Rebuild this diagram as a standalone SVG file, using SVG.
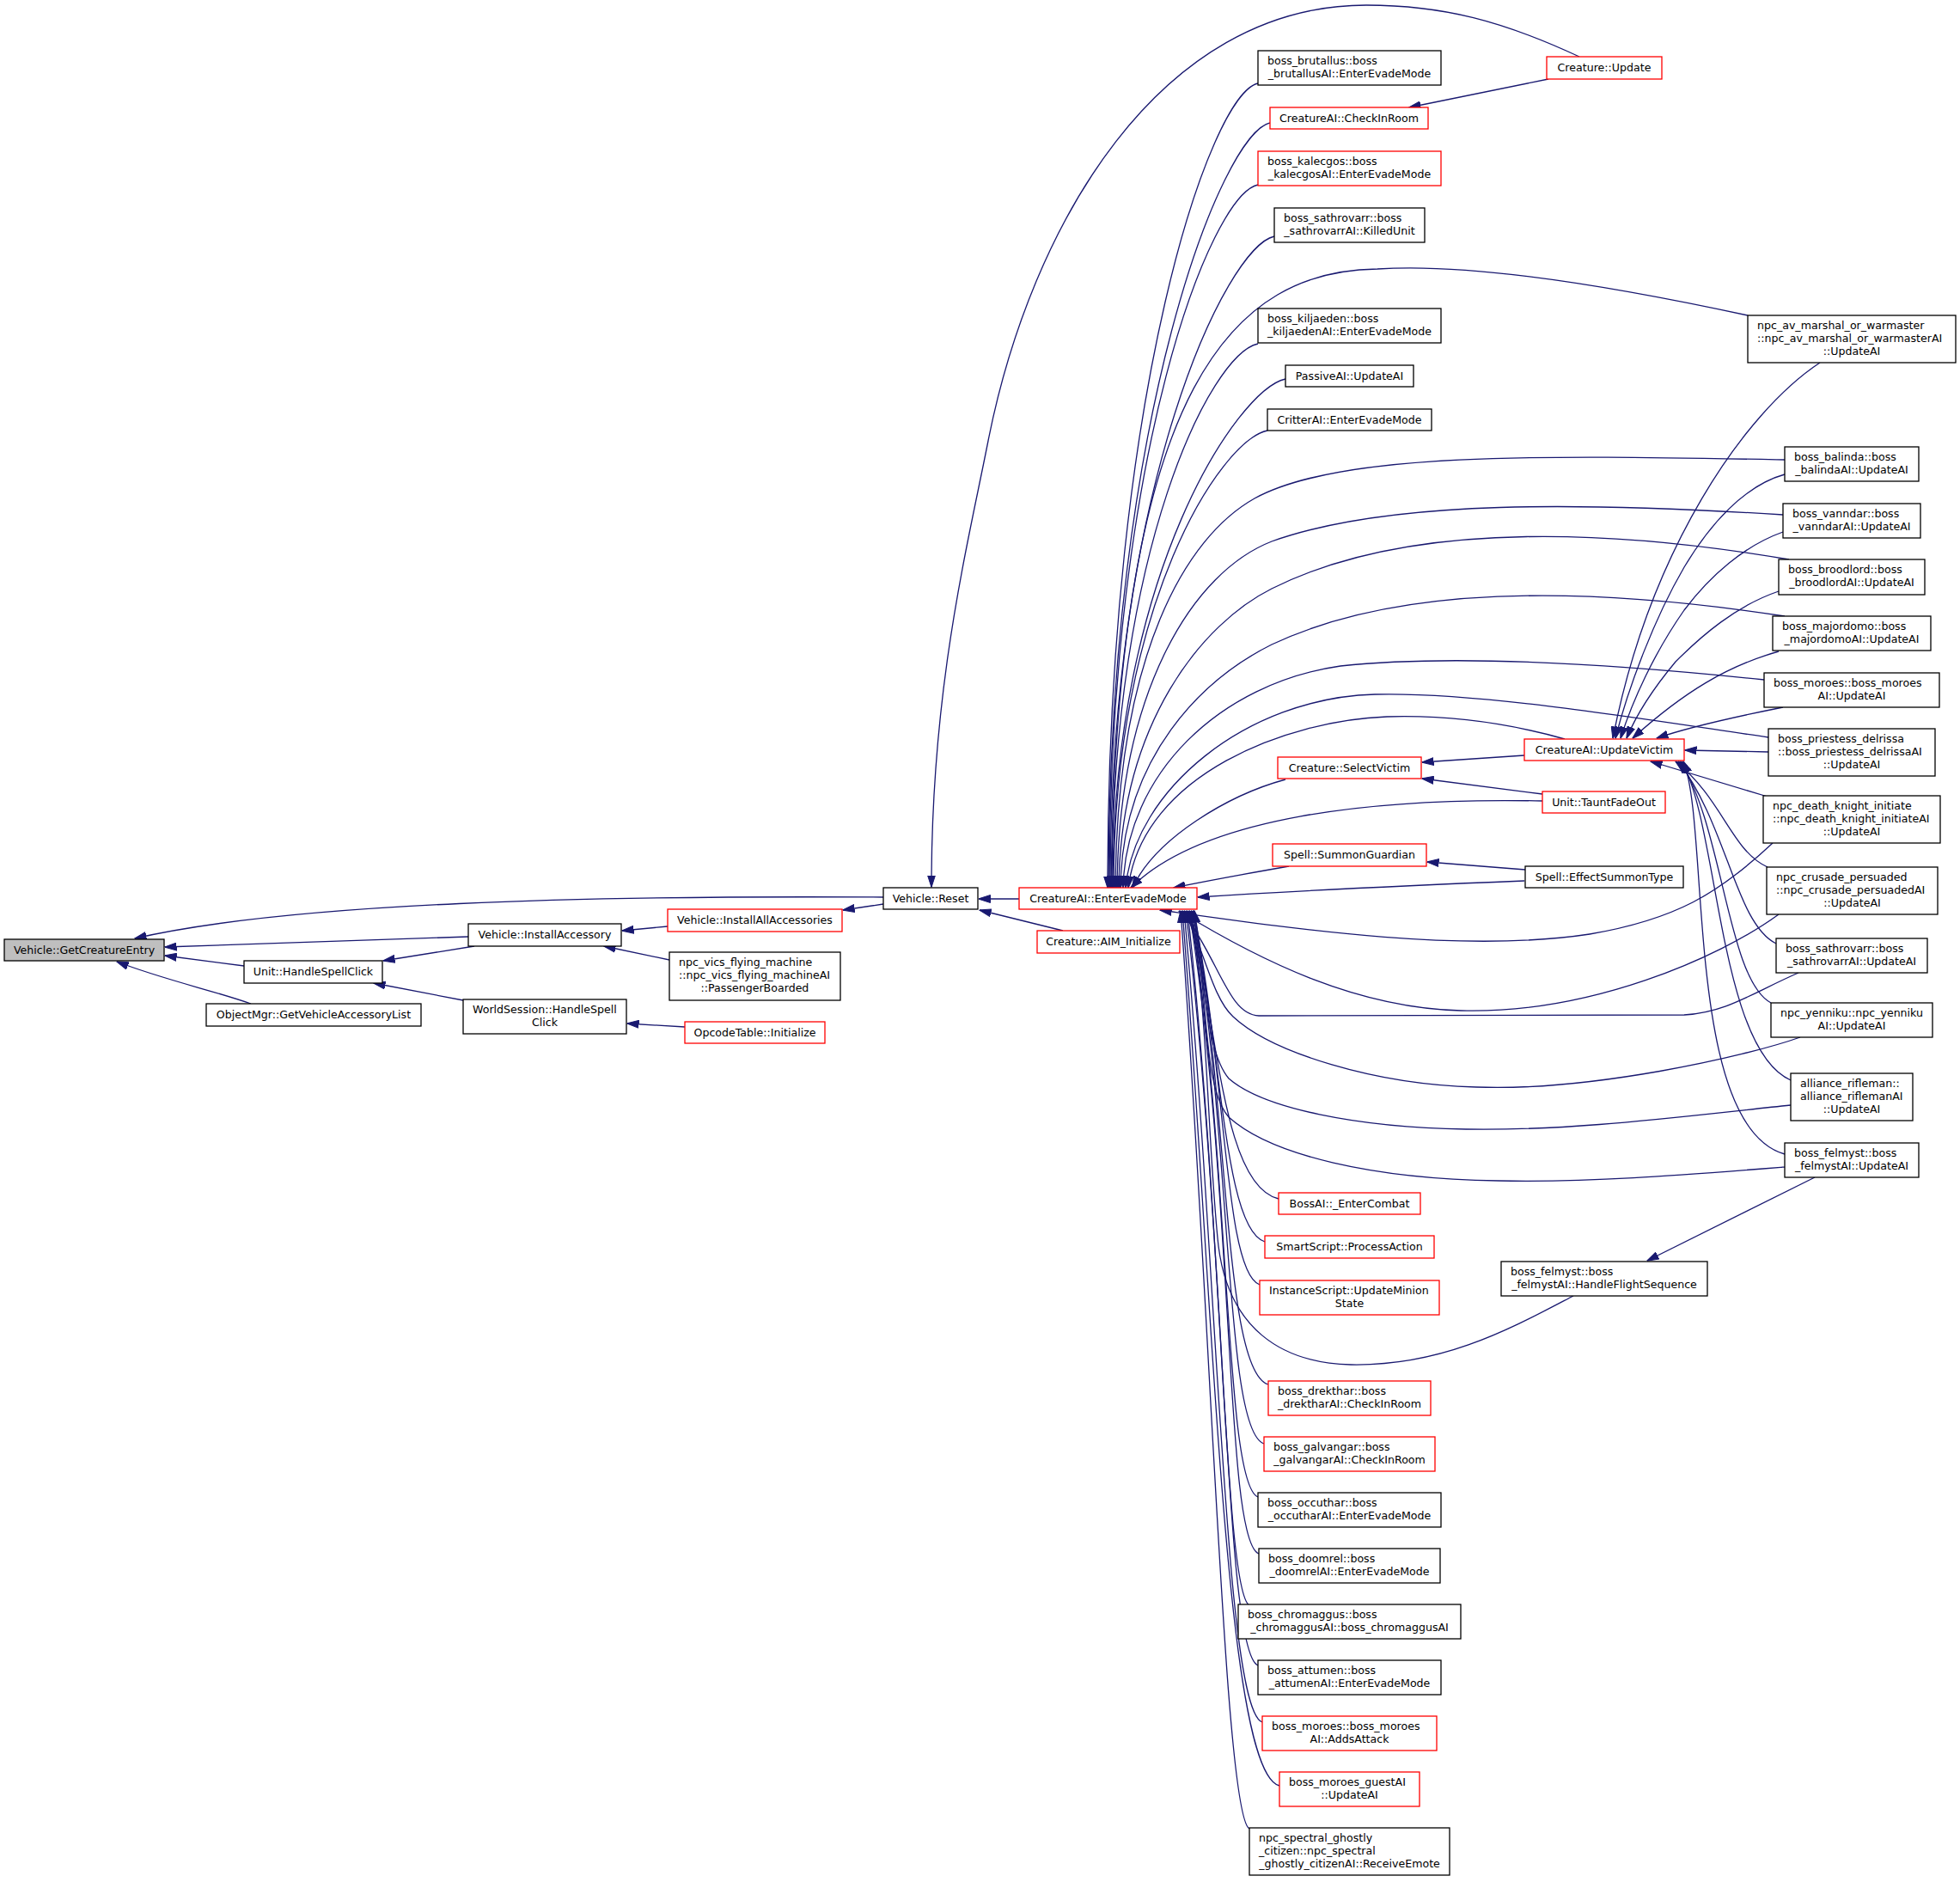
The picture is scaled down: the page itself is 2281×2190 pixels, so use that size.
<svg xmlns="http://www.w3.org/2000/svg" width="2281" height="2190" viewBox="0 0 2281 2190">
<style>
.n rect{fill:#fff;stroke:#000;stroke-width:1.3}
.r rect{stroke:#f00}
.g rect{fill:#bfbfbf}
text{font-family:"DejaVu Sans",Verdana,sans-serif;font-size:12.6px;fill:#000}
.m{text-anchor:middle}
#edges path{fill:none;stroke:#191970;stroke-width:1.3;marker-end:url(#a)}
</style>
<defs>
<marker id="a" markerUnits="userSpaceOnUse" viewBox="0 0 14 10" markerWidth="14" markerHeight="10" refX="13.5" refY="5" orient="auto">
<path d="M0,0.5 L14,5 L0,9.5 z" fill="#191970" stroke="#191970" stroke-width="1"/>
</marker>
</defs>
<rect width="2281" height="2190" fill="#fff"/>
<g id="edges">
<path d="M1028,1044 C690,1042 340,1050 157,1092"/>
<path d="M545,1090 L192,1102"/>
<path d="M284,1124 L192,1112"/>
<path d="M292,1168 C250,1153 190,1140 136,1119"/>
<path d="M552,1101 L446,1118"/>
<path d="M777,1078 L724,1083"/>
<path d="M779,1117 L703,1101"/>
<path d="M539,1164 L435,1144"/>
<path d="M797,1195 L730,1191"/>
<path d="M1028,1052 L981,1059"/>
<path d="M1186,1046 L1139,1046"/>
<path d="M1237,1083 L1140,1059"/>
<path d="M1838,66 C1750,25 1680,6 1590,6 C1350,6 1200,260 1150,513 C1125,640 1084,800 1084,1032"/>
<path d="M1802,92 L1640,125"/>
<path d="M1464,97 C1409,109 1289,453 1289,1033"/>
<path d="M1478,143 C1423,155 1290,481 1290,1033"/>
<path d="M1464,215 C1409,227 1291,526 1291,1033"/>
<path d="M1483,275 C1428,287 1292,563 1292,1033"/>
<path d="M2034,367 C1900,338 1720,305 1603,313 C1440,315 1300,440 1293,1033"/>
<path d="M1464,400 C1409,412 1294,640 1294,1033"/>
<path d="M1496,441 C1441,453 1295,666 1295,1033"/>
<path d="M1475,501 C1420,513 1296,703 1296,1033"/>
<path d="M2077,535 C1800,530 1560,525 1460,580 C1380,625 1300,760 1298,1033"/>
<path d="M2075,599 C1850,585 1620,580 1480,630 C1390,665 1302,800 1300,1033"/>
<path d="M2082,651 C1900,620 1650,600 1480,685 C1400,725 1304,840 1302,1033"/>
<path d="M2077,717 C1900,690 1650,670 1480,750 C1400,790 1306,880 1304,1033"/>
<path d="M2053,791 C1900,775 1700,760 1560,775 C1420,795 1310,900 1307,1033"/>
<path d="M2058,858 C1900,835 1720,805 1600,808 C1450,812 1320,920 1310,1033"/>
<path d="M1821,860 C1750,840 1680,832 1614,834 C1500,838 1330,900 1313,1033"/>
<path d="M1496,907 C1430,925 1345,975 1318,1033"/>
<path d="M1795,932 C1600,928 1400,950 1316,1033"/>
<path d="M1500,1008 C1460,1015 1410,1024 1366,1033"/>
<path d="M1774,1025 C1650,1030 1500,1037 1394,1044"/>
<path d="M1775,1012 L1661,1003"/>
<path d="M1774,879 L1655,887"/>
<path d="M1795,924 L1655,906"/>
<path d="M2118,422 C2030,480 1920,640 1877,859"/>
<path d="M2077,552 C2030,565 1990,610 1960,660 C1925,720 1895,800 1880,859"/>
<path d="M2075,619 C2030,635 1990,670 1960,710 C1925,760 1900,815 1886,859"/>
<path d="M2070,688 C2020,705 1980,740 1950,770 C1925,800 1905,830 1893,859"/>
<path d="M2070,758 C2010,775 1960,805 1900,859"/>
<path d="M2075,823 C2020,834 1960,848 1928,859"/>
<path d="M2058,875 L1961,873"/>
<path d="M2057,927 L1921,886"/>
<path d="M2057,1009 C2015,990 2005,930 1950,886"/>
<path d="M2067,1098 C2020,1075 2010,960 1953,886"/>
<path d="M2061,1167 C2010,1140 2005,960 1955,886"/>
<path d="M2084,1257 C2000,1220 2000,960 1957,886"/>
<path d="M2077,1343 C1960,1310 1990,960 1959,886"/>
<path d="M2112,1370 L1917,1467"/>
<path d="M2063,981 C2000,1040 1950,1070 1850,1087 C1700,1110 1500,1080 1350,1059"/>
<path d="M2070,1064 C2000,1115 1850,1180 1700,1176 C1580,1173 1470,1120 1372,1060"/>
<path d="M2093,1132 C2040,1155 2010,1178 1960,1181 L1465,1182 C1430,1181 1420,1120 1376,1060"/>
<path d="M2095,1207 C2030,1230 1850,1270 1718,1265 C1600,1262 1480,1225 1435,1183 C1410,1160 1400,1100 1378,1060"/>
<path d="M2084,1286 C1950,1300 1830,1316 1706,1314 C1580,1312 1470,1290 1430,1255 C1400,1220 1405,1120 1380,1060"/>
<path d="M2077,1358 C1950,1368 1850,1376 1744,1374 C1600,1372 1480,1345 1430,1300 C1395,1260 1410,1130 1382,1060"/>
<path d="M1831,1508 C1760,1545 1680,1590 1572,1588 C1490,1586 1430,1545 1418,1450 C1405,1330 1405,1150 1384,1060"/>
<path d="M1488,1395 C1425,1380 1418,1212 1386,1060"/>
<path d="M1472,1445 C1425,1430 1423,1234 1388,1060"/>
<path d="M1466,1495 C1425,1480 1428,1257 1389,1060"/>
<path d="M1476,1611 C1425,1596 1431,1309 1390,1060"/>
<path d="M1471,1680 C1425,1665 1435,1340 1388,1060"/>
<path d="M1464,1742 C1425,1727 1433,1368 1386,1060"/>
<path d="M1465,1808 C1425,1793 1438,1398 1384,1060"/>
<path d="M1454,1868 C1425,1853 1423,1425 1382,1060"/>
<path d="M1464,1938 C1425,1923 1428,1456 1380,1060"/>
<path d="M1469,2004 C1425,1989 1418,1486 1378,1060"/>
<path d="M1489,2078 C1425,2063 1413,1519 1376,1060"/>
<path d="M1454,2128 C1425,2113 1410,1542 1374,1060"/>
</g>
<g id="n1" class="n g"><rect x="5" y="1093" width="186" height="25"/><text class="m" x="98" y="1110">Vehicle::GetCreatureEntry</text></g>
<g id="n2" class="n"><rect x="545" y="1075" width="178" height="26"/><text class="m" x="634" y="1092">Vehicle::InstallAccessory</text></g>
<g id="n3" class="n"><rect x="284" y="1118" width="161" height="26"/><text class="m" x="364.5" y="1135">Unit::HandleSpellClick</text></g>
<g id="n4" class="n"><rect x="240" y="1168" width="250" height="26"/><text class="m" x="365" y="1185">ObjectMgr::GetVehicleAccessoryList</text></g>
<g id="n5" class="n r"><rect x="777" y="1058" width="203" height="26"/><text class="m" x="878.5" y="1075">Vehicle::InstallAllAccessories</text></g>
<g id="n6" class="n"><rect x="779" y="1108" width="199" height="56"/><text x="790" y="1124">npc_vics_flying_machine</text><text x="790" y="1139">::npc_vics_flying_machineAI</text><text class="m" x="878.5" y="1154">::PassengerBoarded</text></g>
<g id="n7" class="n"><rect x="539" y="1163" width="190" height="40"/><text x="550" y="1179">WorldSession::HandleSpell</text><text class="m" x="634" y="1194">Click</text></g>
<g id="n8" class="n r"><rect x="797" y="1189" width="163" height="25"/><text class="m" x="878.5" y="1206">OpcodeTable::Initialize</text></g>
<g id="n9" class="n"><rect x="1028" y="1033" width="110" height="25"/><text class="m" x="1083" y="1050">Vehicle::Reset</text></g>
<g id="n10" class="n r"><rect x="1186" y="1033" width="207" height="25"/><text class="m" x="1289.5" y="1050">CreatureAI::EnterEvadeMode</text></g>
<g id="n11" class="n r"><rect x="1207" y="1083" width="166" height="26"/><text class="m" x="1290" y="1100">Creature::AIM_Initialize</text></g>
<g id="n12" class="n"><rect x="1464" y="59" width="213" height="40"/><text x="1475" y="75">boss_brutallus::boss</text><text class="m" x="1570.5" y="90">_brutallusAI::EnterEvadeMode</text></g>
<g id="n13" class="n r"><rect x="1800" y="66" width="134" height="26"/><text class="m" x="1867" y="83">Creature::Update</text></g>
<g id="n14" class="n r"><rect x="1478" y="125" width="184" height="25"/><text class="m" x="1570" y="142">CreatureAI::CheckInRoom</text></g>
<g id="n15" class="n r"><rect x="1464" y="176" width="213" height="40"/><text x="1475" y="192">boss_kalecgos::boss</text><text class="m" x="1570.5" y="207">_kalecgosAI::EnterEvadeMode</text></g>
<g id="n16" class="n"><rect x="1483" y="242" width="175" height="40"/><text x="1494" y="258">boss_sathrovarr::boss</text><text class="m" x="1570.5" y="273">_sathrovarrAI::KilledUnit</text></g>
<g id="n17" class="n"><rect x="1464" y="359" width="213" height="40"/><text x="1475" y="375">boss_kiljaeden::boss</text><text class="m" x="1570.5" y="390">_kiljaedenAI::EnterEvadeMode</text></g>
<g id="n18" class="n"><rect x="1496" y="425" width="149" height="25"/><text class="m" x="1570.5" y="442">PassiveAI::UpdateAI</text></g>
<g id="n19" class="n"><rect x="1475" y="476" width="191" height="25"/><text class="m" x="1570.5" y="493">CritterAI::EnterEvadeMode</text></g>
<g id="n20" class="n r"><rect x="1774" y="860" width="186" height="25"/><text class="m" x="1867" y="877">CreatureAI::UpdateVictim</text></g>
<g id="n21" class="n r"><rect x="1487" y="881" width="167" height="25"/><text class="m" x="1570.5" y="898">Creature::SelectVictim</text></g>
<g id="n22" class="n r"><rect x="1795" y="921" width="143" height="25"/><text class="m" x="1866.5" y="938">Unit::TauntFadeOut</text></g>
<g id="n23" class="n r"><rect x="1481" y="982" width="179" height="26"/><text class="m" x="1570.5" y="999">Spell::SummonGuardian</text></g>
<g id="n24" class="n"><rect x="1775" y="1008" width="184" height="25"/><text class="m" x="1867" y="1025">Spell::EffectSummonType</text></g>
<g id="n25" class="n r"><rect x="1488" y="1388" width="165" height="25"/><text class="m" x="1570.5" y="1405">BossAI::_EnterCombat</text></g>
<g id="n26" class="n r"><rect x="1472" y="1438" width="197" height="26"/><text class="m" x="1570.5" y="1455">SmartScript::ProcessAction</text></g>
<g id="n27" class="n r"><rect x="1466" y="1490" width="209" height="40"/><text x="1477" y="1506">InstanceScript::UpdateMinion</text><text class="m" x="1570.5" y="1521">State</text></g>
<g id="n28" class="n"><rect x="1747" y="1468" width="240" height="40"/><text x="1758" y="1484">boss_felmyst::boss</text><text class="m" x="1867" y="1499">_felmystAI::HandleFlightSequence</text></g>
<g id="n29" class="n r"><rect x="1476" y="1607" width="189" height="40"/><text x="1487" y="1623">boss_drekthar::boss</text><text class="m" x="1570.5" y="1638">_drektharAI::CheckInRoom</text></g>
<g id="n30" class="n r"><rect x="1471" y="1672" width="199" height="40"/><text x="1482" y="1688">boss_galvangar::boss</text><text class="m" x="1570.5" y="1703">_galvangarAI::CheckInRoom</text></g>
<g id="n31" class="n"><rect x="1464" y="1737" width="213" height="40"/><text x="1475" y="1753">boss_occuthar::boss</text><text class="m" x="1570.5" y="1768">_occutharAI::EnterEvadeMode</text></g>
<g id="n32" class="n"><rect x="1465" y="1802" width="211" height="40"/><text x="1476" y="1818">boss_doomrel::boss</text><text class="m" x="1570.5" y="1833">_doomrelAI::EnterEvadeMode</text></g>
<g id="n33" class="n"><rect x="1441" y="1867" width="259" height="40"/><text x="1452" y="1883">boss_chromaggus::boss</text><text class="m" x="1570.5" y="1898">_chromaggusAI::boss_chromaggusAI</text></g>
<g id="n34" class="n"><rect x="1464" y="1932" width="213" height="40"/><text x="1475" y="1948">boss_attumen::boss</text><text class="m" x="1570.5" y="1963">_attumenAI::EnterEvadeMode</text></g>
<g id="n35" class="n r"><rect x="1469" y="1997" width="203" height="40"/><text x="1480" y="2013">boss_moroes::boss_moroes</text><text class="m" x="1570.5" y="2028">AI::AddsAttack</text></g>
<g id="n36" class="n r"><rect x="1489" y="2062" width="163" height="40"/><text x="1500" y="2078">boss_moroes_guestAI</text><text class="m" x="1570.5" y="2093">::UpdateAI</text></g>
<g id="n37" class="n"><rect x="1454" y="2127" width="233" height="55"/><text x="1465" y="2143">npc_spectral_ghostly</text><text x="1465" y="2158">_citizen::npc_spectral</text><text class="m" x="1570.5" y="2173">_ghostly_citizenAI::ReceiveEmote</text></g>
<g id="n38" class="n"><rect x="2034" y="367" width="242" height="55"/><text x="2045" y="383">npc_av_marshal_or_warmaster</text><text x="2045" y="398">::npc_av_marshal_or_warmasterAI</text><text class="m" x="2155" y="413">::UpdateAI</text></g>
<g id="n39" class="n"><rect x="2077" y="520" width="156" height="40"/><text x="2088" y="536">boss_balinda::boss</text><text class="m" x="2155" y="551">_balindaAI::UpdateAI</text></g>
<g id="n40" class="n"><rect x="2075" y="586" width="160" height="40"/><text x="2086" y="602">boss_vanndar::boss</text><text class="m" x="2155" y="617">_vanndarAI::UpdateAI</text></g>
<g id="n41" class="n"><rect x="2070" y="651" width="170" height="41"/><text x="2081" y="667">boss_broodlord::boss</text><text class="m" x="2155" y="682">_broodlordAI::UpdateAI</text></g>
<g id="n42" class="n"><rect x="2063" y="717" width="184" height="40"/><text x="2074" y="733">boss_majordomo::boss</text><text class="m" x="2155" y="748">_majordomoAI::UpdateAI</text></g>
<g id="n43" class="n"><rect x="2053" y="783" width="204" height="40"/><text x="2064" y="799">boss_moroes::boss_moroes</text><text class="m" x="2155" y="814">AI::UpdateAI</text></g>
<g id="n44" class="n"><rect x="2058" y="848" width="194" height="55"/><text x="2069" y="864">boss_priestess_delrissa</text><text x="2069" y="879">::boss_priestess_delrissaAI</text><text class="m" x="2155" y="894">::UpdateAI</text></g>
<g id="n45" class="n"><rect x="2052" y="926" width="206" height="55"/><text x="2063" y="942">npc_death_knight_initiate</text><text x="2063" y="957">::npc_death_knight_initiateAI</text><text class="m" x="2155" y="972">::UpdateAI</text></g>
<g id="n46" class="n"><rect x="2056" y="1009" width="199" height="55"/><text x="2067" y="1025">npc_crusade_persuaded</text><text x="2067" y="1040">::npc_crusade_persuadedAI</text><text class="m" x="2155.5" y="1055">::UpdateAI</text></g>
<g id="n47" class="n"><rect x="2067" y="1092" width="176" height="40"/><text x="2078" y="1108">boss_sathrovarr::boss</text><text class="m" x="2155" y="1123">_sathrovarrAI::UpdateAI</text></g>
<g id="n48" class="n"><rect x="2061" y="1167" width="188" height="40"/><text x="2072" y="1183">npc_yenniku::npc_yenniku</text><text class="m" x="2155" y="1198">AI::UpdateAI</text></g>
<g id="n49" class="n"><rect x="2084" y="1249" width="142" height="55"/><text x="2095" y="1265">alliance_rifleman::</text><text x="2095" y="1280">alliance_riflemanAI</text><text class="m" x="2155" y="1295">::UpdateAI</text></g>
<g id="n50" class="n"><rect x="2077" y="1330" width="156" height="40"/><text x="2088" y="1346">boss_felmyst::boss</text><text class="m" x="2155" y="1361">_felmystAI::UpdateAI</text></g>
</svg>
